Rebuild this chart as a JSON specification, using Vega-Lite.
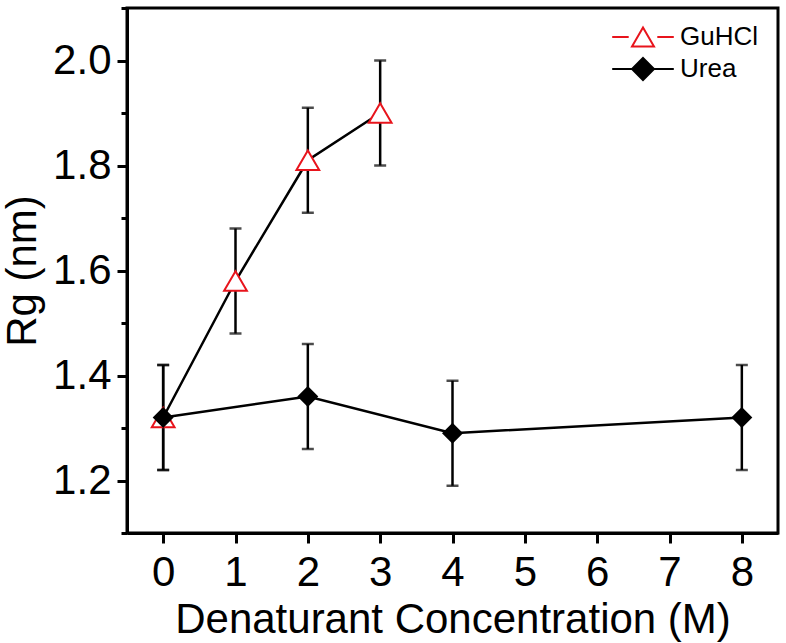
{
  "$schema": "https://vega.github.io/schema/vega-lite/v6.json",
  "width": 651,
  "height": 525,
  "autosize": "none",
  "padding": {"left": 127, "top": 8, "right": 8, "bottom": 110},
  "background": "white",
  "config": {
    "font": "Liberation Sans",
    "view": {"stroke": "black", "strokeWidth": 3},
    "axis": {
      "grid": false,
      "domainColor": "black",
      "domainWidth": 3,
      "tickColor": "black",
      "tickWidth": 3,
      "labelColor": "black",
      "labelFont": "Liberation Sans",
      "labelFontSize": 42,
      "titleFont": "Liberation Sans",
      "titleFontSize": 42,
      "titleFontWeight": "normal",
      "titleColor": "black"
    },
    "legend": {
      "orient": "none",
      "legendX": 503,
      "legendY": 16,
      "padding": 0,
      "labelFont": "Liberation Sans",
      "labelFontSize": 26,
      "labelColor": "black",
      "labelOffset": 24,
      "rowPadding": 3,
      "symbolSize": 484,
      "symbolStrokeWidth": 2,
      "symbolOpacity": 1
    }
  },
  "data": {
    "values": [
      {"c": 0, "rg": 1.32, "lo": 1.22, "hi": 1.42, "s": "GuHCl"},
      {"c": 1, "rg": 1.58, "lo": 1.48, "hi": 1.68, "s": "GuHCl"},
      {"c": 2, "rg": 1.81, "lo": 1.71, "hi": 1.91, "s": "GuHCl"},
      {"c": 3, "rg": 1.90, "lo": 1.80, "hi": 2.00, "s": "GuHCl"},
      {"c": 0, "rg": 1.32, "lo": 1.22, "hi": 1.42, "s": "Urea"},
      {"c": 2, "rg": 1.36, "lo": 1.26, "hi": 1.46, "s": "Urea"},
      {"c": 4, "rg": 1.29, "lo": 1.19, "hi": 1.39, "s": "Urea"},
      {"c": 8, "rg": 1.32, "lo": 1.22, "hi": 1.42, "s": "Urea"}
    ]
  },
  "layer": [
    {
      "mark": {"type": "line", "color": "black", "strokeWidth": 2.5},
      "encoding": {
        "x": {
          "field": "c", "type": "quantitative",
          "scale": {"domain": [-0.5, 8.5], "nice": false, "zero": false},
          "axis": {
            "title": "Denaturant Concentration (M)",
            "values": [0, 1, 2, 3, 4, 5, 6, 7, 8],
            "format": "d",
            "tickSize": 10,
            "labelPadding": 9,
            "titlePadding": 6
          }
        },
        "y": {
          "field": "rg", "type": "quantitative",
          "scale": {"domain": [1.1, 2.1], "nice": false, "zero": false},
          "axis": {
            "title": "Rg (nm)",
            "values": [1.1, 1.2, 1.3, 1.4, 1.5, 1.6, 1.7, 1.8, 1.9, 2.0, 2.1],
            "format": ".1f",
            "labelExpr": "round(datum.value * 10) % 2 == 1 ? '' : datum.label",
            "tickSize": {"condition": {"test": "round(datum.value * 10) % 2 == 1", "value": 6}, "value": 10},
            "labelPadding": 6,
            "titlePadding": 8
          }
        },
        "detail": {"field": "s", "type": "nominal"}
      }
    },
    {
      "mark": {"type": "rule", "color": "black", "strokeWidth": 2.5},
      "encoding": {
        "x": {"field": "c", "type": "quantitative"},
        "y": {"field": "lo", "type": "quantitative"},
        "y2": {"field": "hi"}
      }
    },
    {
      "mark": {"type": "tick", "orient": "horizontal", "color": "black", "size": 12, "thickness": 2.5},
      "encoding": {
        "x": {"field": "c", "type": "quantitative"},
        "y": {"field": "lo", "type": "quantitative"}
      }
    },
    {
      "mark": {"type": "tick", "orient": "horizontal", "color": "black", "size": 12, "thickness": 2.5},
      "encoding": {
        "x": {"field": "c", "type": "quantitative"},
        "y": {"field": "hi", "type": "quantitative"}
      }
    },
    {
      "transform": [{"filter": "datum.s == 'GuHCl'"}],
      "mark": {"type": "point", "shape": "triangle-up", "filled": false, "fill": "white", "color": "#e8141c", "strokeWidth": 2, "size": 520, "opacity": 1},
      "encoding": {
        "x": {"field": "c", "type": "quantitative"},
        "y": {"field": "rg", "type": "quantitative"}
      }
    },
    {
      "transform": [{"filter": "datum.s == 'Urea'"}],
      "mark": {"type": "point", "shape": "diamond", "filled": true, "fill": "black", "color": "black", "size": 440, "opacity": 1},
      "encoding": {
        "x": {"field": "c", "type": "quantitative"},
        "y": {"field": "rg", "type": "quantitative"}
      }
    },
    {
      "mark": {"type": "point", "opacity": 0, "strokeWidth": 2, "size": 484},
      "encoding": {
        "x": {"field": "c", "type": "quantitative"},
        "y": {"field": "rg", "type": "quantitative"},
        "shape": {
          "field": "s", "type": "nominal", "title": null,
          "scale": {"domain": ["GuHCl", "Urea"], "range": ["M-2.8,0H-1.3M1.3,0H2.8M0,-0.87L1,0.87L-1,0.87Z", "M-2.8,0H2.8M0,-1L1,0L0,1L-1,0Z"]}
        },
        "fill": {
          "field": "s", "type": "nominal", "title": null,
          "scale": {"domain": ["GuHCl", "Urea"], "range": ["white", "black"]}
        },
        "stroke": {
          "field": "s", "type": "nominal", "title": null,
          "scale": {"domain": ["GuHCl", "Urea"], "range": ["#e8141c", "black"]}
        }
      }
    }
  ]
}
